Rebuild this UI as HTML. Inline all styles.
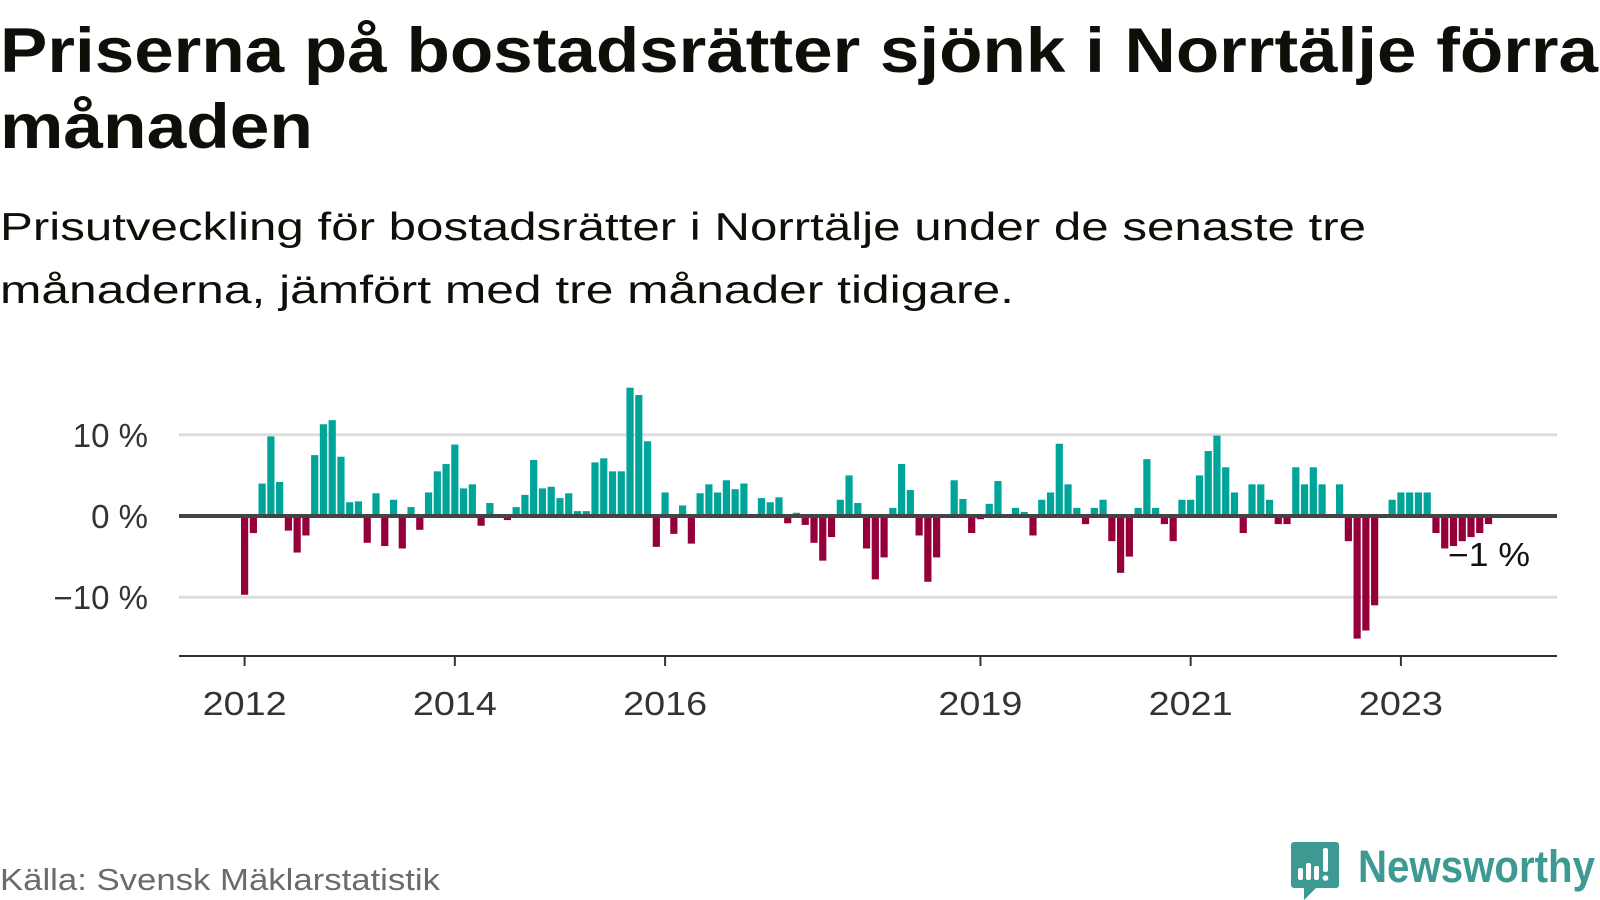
<!DOCTYPE html>
<html><head><meta charset="utf-8">
<style>
html,body{margin:0;padding:0;background:#fff;width:1600px;height:900px;overflow:hidden}
svg{display:block;font-family:"Liberation Sans",sans-serif}
</style></head>
<body>
<svg id="chart" width="1600" height="900" viewBox="0 0 1600 900" xmlns="http://www.w3.org/2000/svg">
<text x="0" y="72" font-size="63" font-weight="bold" fill="#0f0f0a" textLength="1598" lengthAdjust="spacingAndGlyphs">Priserna på bostadsrätter sjönk i Norrtälje förra</text>
<text x="0" y="148" font-size="63" font-weight="bold" fill="#0f0f0a" textLength="313" lengthAdjust="spacingAndGlyphs">månaden</text>
<text x="0" y="240" font-size="39" fill="#0f0f0a" textLength="1366" lengthAdjust="spacingAndGlyphs">Prisutveckling för bostadsrätter i Norrtälje under de senaste tre</text>
<text x="0" y="303" font-size="39" fill="#0f0f0a" textLength="1014" lengthAdjust="spacingAndGlyphs">månaderna, jämfört med tre månader tidigare.</text>
<g id="grid"></g>
<g id="bars"></g>
<g id="axes"></g>
<text x="1530" y="566" font-size="33" fill="#111" text-anchor="end" textLength="82" lengthAdjust="spacingAndGlyphs">−1 %</text>
<text x="0" y="890" font-size="31" fill="#6b6b6b" textLength="440" lengthAdjust="spacingAndGlyphs">Källa: Svensk Mäklarstatistik</text>
<g>
<path d="M1294 842 h42 a3 3 0 0 1 3 3 v40 a3 3 0 0 1 -3 3 h-20 l-12 12 v-12 h-10 a3 3 0 0 1 -3 -3 v-40 a3 3 0 0 1 3 -3z" fill="#3d9a92"/>
<rect x="1298" y="868" width="5" height="12" rx="2" fill="#fff"/>
<rect x="1306" y="863" width="5" height="17" rx="2" fill="#fff"/>
<rect x="1314" y="866" width="5" height="14" rx="2" fill="#fff"/>
<rect x="1323" y="848" width="5" height="24" rx="2" fill="#fff"/>
<circle cx="1325.5" cy="878" r="2.8" fill="#fff"/>
<text x="1358" y="882" font-size="45" font-weight="bold" fill="#3d9a92" textLength="237" lengthAdjust="spacingAndGlyphs">Newsworthy</text>
</g>
</svg>
<script>
const values = [-9.7,-2.1,4.0,9.8,4.2,-1.8,-4.5,-2.4,7.5,11.3,11.8,7.3,1.7,1.8,-3.3,2.8,-3.7,2.0,-4.0,1.1,-1.7,2.9,5.5,6.4,
8.8,3.4,3.9,-1.2,1.6,0,-0.5,1.1,2.6,6.9,3.4,3.6,2.2,2.8,0.6,0.6,6.6,7.1,5.5,5.5,15.8,14.9,9.2,-3.8,2.9,-2.2,1.3,-3.4,2.8,3.9,2.9,
4.4,3.3,4.0,0,2.2,1.7,2.3,-0.9,0.4,-1.1,-3.3,-5.5,-2.6,2.0,5.0,1.6,-4.0,-7.8,-5.1,1.0,6.4,3.2,-2.4,-8.1,-5.1,0,4.4,2.1,-2.1,-0.4,1.5,
4.3,0,1.0,0.5,-2.4,2.0,2.9,8.9,3.9,1.0,-1.0,1.0,2.0,-3.1,-7.0,-5.0,1.0,7.0,1.0,-1.0,-3.1,2.0,2.0,5.0,8.0,9.9,6.0,2.9,-2.1,3.9,3.9,
2.0,-1.0,-1.0,6.0,3.9,6.0,3.9,0,3.9,-3.1,-15.1,-14.1,-11.0,0,2.0,2.9,2.9,2.9,2.9,-2.1,-4.0,-3.7,-3.1,-2.6,-2.1,-1.0];
const yTicks = [10, 0, -10];
const yTickLabels = ["10 %", "0 %", "−10 %"];
const xTickYears = [2012, 2014, 2016, 2019, 2021, 2023];
const startYear = 2012;

const NS = "http://www.w3.org/2000/svg";
const x0 = 241, step = 8.76, barW = 7.2;
const left = 179, right = 1557;
function xScale(i){ return x0 + i*step; }
function yScale(v){ return 516 - v*8.12; }
function mk(tag, attrs, parent){ const e=document.createElementNS(NS,tag); for(const k in attrs) e.setAttribute(k,attrs[k]); parent.appendChild(e); return e; }

const grid=document.getElementById('grid'), bars=document.getElementById('bars'), axes=document.getElementById('axes');
yTicks.forEach((t,i)=>{
  if(t!==0){
    const l=mk('line',{x1:left,x2:right,y1:yScale(t),y2:yScale(t),stroke:'#dddddd','stroke-width':3},grid);
    
    
  }
  const tx=mk('text',{x:148,y:yScale(t)+12,'font-size':33,fill:'#333','text-anchor':'end'},axes);
  tx.textContent=yTickLabels[i];
  
  
});
values.forEach((v,i)=>{
  const y=v>=0?yScale(v):yScale(0), h=Math.abs(yScale(v)-yScale(0));
  const r=mk('rect',{x:xScale(i),y:y,width:barW,height:h,fill:v>=0?'#00a59a':'#95003b'},bars);
  
  
});
const base=mk('line',{x1:left,x2:right,y1:yScale(0),y2:yScale(0),stroke:'#444','stroke-width':4},axes);


const xa=mk('line',{x1:left,x2:right,y1:656,y2:656,stroke:'#333','stroke-width':2},axes);


xTickYears.forEach(yr=>{
  const cx=xScale((yr-startYear)*12)+barW/2;
  const tk=mk('line',{x1:cx,x2:cx,y1:656,y2:666,stroke:'#333','stroke-width':2},axes);
  
  
  const tx=mk('text',{x:cx,y:715,'font-size':33,fill:'#333','text-anchor':'middle',textLength:84,lengthAdjust:'spacingAndGlyphs'},axes);
  tx.textContent=String(yr);
  
  
});
</script>
</body></html>
